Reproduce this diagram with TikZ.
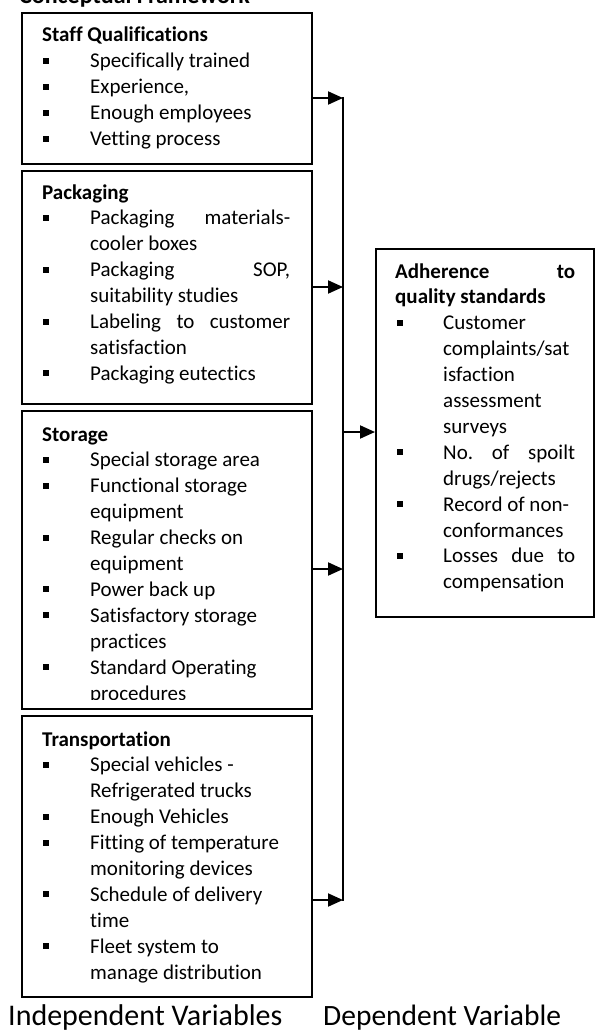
\documentclass[tikz,border=0pt]{standalone}
\usepackage{fontspec}
\setmainfont{Carlito}[Ligatures=NoCommon]
\usetikzlibrary{arrows.meta}
\newcommand\bul{\makebox[48pt][l]{\hspace{1pt}\rule[4pt]{6pt}{6pt}}}
\newcommand\rbul{\makebox[48pt][l]{\hspace{2pt}\rule[4pt]{6pt}{6pt}}}
\newcommand\ind{\hspace*{48pt}}
\newcommand\jl[2]{\makebox[#1][s]{#2}}
\newcommand\bodyfont{\fontsize{21}{25.9}\selectfont}
\begin{document}
\begin{tikzpicture}[x=1pt,y=-1pt,
  box/.style={draw, line width=2pt, rectangle, inner sep=0pt, anchor=north west},
  txt/.style={anchor=base west, inner sep=0pt},
  bus/.style={line width=2pt},
  arr/.style={line width=2pt, -{Triangle[length=15pt,width=13pt]}}]
\useasboundingbox (0,0) rectangle (594,1030);
\fill[white] (0,0) rectangle (594,1030);

% title (cut off at the top)
\node[txt, font=\bfseries\fontsize{24}{28}\selectfont] (title) at (19,3.5) {Conceptual Framework};

% boxes
\node[box, minimum width=290pt, minimum height=151pt] (staff) at (21,12) {};
\node[box, minimum width=290pt, minimum height=233pt] (pack) at (21,170) {};
\node[box, minimum width=290pt, minimum height=298pt] (stor) at (21,410) {};
\node[box, minimum width=290pt, minimum height=281pt] (trans) at (21,715) {};
\node[box, minimum width=218pt, minimum height=368pt] (adh) at (375,248) {};

% texts
\node[txt] (staffT) at (42,42) {\parbox[t]{265pt}{\bodyfont
\textbf{Staff Qualifications}\\
\bul Specifically trained\\
\bul Experience,\\
\bul Enough employees\\
\bul Vetting process}};

\node[txt] (packT) at (42,199) {\parbox[t]{265pt}{\bodyfont
\textbf{Packaging}\\
\bul\jl{200pt}{Packaging\hfill materials-}\\
\ind cooler boxes\\
\bul\jl{200pt}{Packaging\hfill SOP,}\\
\ind suitability studies\\
\bul\jl{200pt}{Labeling\hfill to\hfill customer}\\
\ind satisfaction\\
\bul Packaging eutectics}};

\begin{scope}
\clip (21,410) rectangle (311,699);
\node[txt] (storT) at (42,441) {\parbox[t]{265pt}{\bodyfont
\textbf{Storage}\\
\bul Special storage area\\
\bul Functional storage\\
\ind equipment\\
\bul Regular checks on\\
\ind equipment\\
\bul Power back up\\
\bul Satisfactory storage\\
\ind practices\\
\bul Standard Operating\\
\ind procedures}};
\end{scope}

\node[txt] (transT) at (42,746) {\parbox[t]{265pt}{\bodyfont
\textbf{Transportation}\\
\bul Special vehicles -\\
\ind Refrigerated trucks\\
\bul Enough Vehicles\\
\bul Fitting of temperature\\
\ind monitoring devices\\
\bul Schedule of delivery\\
\ind time\\
\bul Fleet system to\\
\ind manage distribution}};

\node[txt] (adhT) at (395,278) {\parbox[t]{190pt}{\bodyfont
\jl{180pt}{\textbf{Adherence}\hfill\textbf{to}}\\
\textbf{quality standards}\\
\rbul Customer\\
\ind complaints/sat\\
\ind isfaction\\
\ind assessment\\
\ind surveys\\
\rbul\jl{132pt}{No.\hfill of\hfill spoilt}\\
\ind drugs/rejects\\
\rbul Record of non-\\
\ind conformances\\
\rbul\jl{132pt}{Losses\hfill due\hfill to}\\
\ind compensation}};

% connectors
\coordinate (b1) at (343,98);
\coordinate (b2) at (343,287);
\coordinate (bm) at (343,432);
\coordinate (b3) at (343,569);
\coordinate (b4) at (343,900);
\draw[bus] ([yshift=1pt]b1) -- ([yshift=-1pt]b4);
\draw[arr] (staff.east |- b1) -- (b1);
\draw[arr] (pack.east |- b2) -- (b2);
\draw[arr] (stor.east |- b3) -- (b3);
\draw[arr] (trans.east |- b4) -- (b4);
\draw[arr] (bm) -- (adh.west |- bm);

% bottom labels
\node[txt, font=\fontsize{30}{34}\selectfont] (iv) at (8,1025) {Independent Variables};
\node[txt, font=\fontsize{29.5}{34}\selectfont] (dv) at (323,1025) {Dependent Variable};
\end{tikzpicture}
\end{document}
